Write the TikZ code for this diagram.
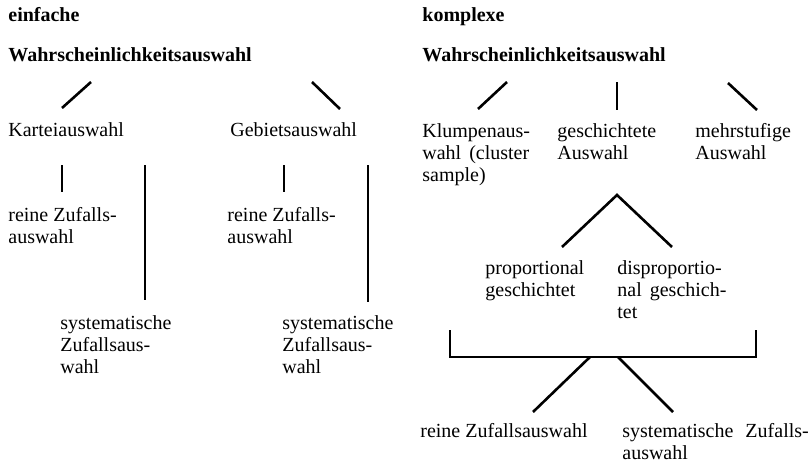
\documentclass[tikz,border=0pt]{standalone}
\usepackage{fontspec}
\setmainfont{Liberation Serif}
\begin{document}
\begin{tikzpicture}[x=0.5pt,y=-0.5pt,
    txt/.style={anchor=north west, inner sep=0pt, align=left, font=\fontsize{10}{11}\selectfont},
    head/.style={txt, font=\fontsize{10}{11}\selectfont\bfseries},
    branch/.style={line width=1.3pt}]

        \useasboundingbox (0,0) rectangle (811,466);

        %Simple probability sampling
        \node [head] (einfach) at (8,7)  {einfache};
        \node [head] (wahrL)   at (8,47) {Wahrscheinlichkeitsauswahl};
        \node [txt]  (kartei)  at (8,122)   {Karteiauswahl};
        \node [txt]  (gebiet)  at (230,122) {Gebietsauswahl};
        \node [txt]  (reineK)  at (8,207)   {reine Zufalls-\\auswahl};
        \node [txt]  (reineG)  at (227,207) {reine Zufalls-\\auswahl};
        \node [txt]  (systK)   at (60,315)  {systematische\\Zufallsaus-\\wahl};
        \node [txt]  (systG)   at (282,315) {systematische\\Zufallsaus-\\wahl};

        \coordinate (kA) at (91,82);   \coordinate (kB) at (62,108);
        \coordinate (gA) at (312,82);  \coordinate (gB) at (340,109);
        \coordinate (rkA) at (62,165);  \coordinate (rkB) at (62,192);
        \coordinate (skA) at (145,165); \coordinate (skB) at (145,300);
        \coordinate (rgA) at (284,165); \coordinate (rgB) at (284,192);
        \coordinate (sgA) at (368,165); \coordinate (sgB) at (368,302);
        \draw [branch] (kA) -- (kB);
        \draw [branch] (gA) -- (gB);
        \draw [branch] (rkA) -- (rkB);
        \draw [branch] (skA) -- (skB);
        \draw [branch] (rgA) -- (rgB);
        \draw [branch] (sgA) -- (sgB);

        %Complex probability sampling
        \node [head] (komplex) at (422,7)  {komplexe};
        \node [head] (wahrR)   at (422,47) {Wahrscheinlichkeitsauswahl};
        \node [txt]  (klumpen) at (422,123) {Klumpenaus-\\wahl\hspace{4pt}(cluster\\sample)};
        \node [txt]  (geschi)  at (557,123) {geschichtete\\Auswahl};
        \node [txt]  (mehrst)  at (695,123) {mehrstufige\\Auswahl};
        \node [txt]  (prop)    at (485,260) {proportional\\geschichtet};
        \node [txt]  (disprop) at (617,260) {disproportio-\\nal\hspace{4pt}geschich-\\tet};
        \node [txt]  (reineZ)  at (420,423) {reine Zufallsauswahl};
        \node [txt]  (systZ)   at (622,423) {systematische\hspace{6pt}Zufalls-\\auswahl};

        \coordinate (cA) at (507,82);  \coordinate (cB) at (478,109);
        \coordinate (sA) at (617,82);  \coordinate (sB) at (617,110);
        \coordinate (mA) at (728,83);  \coordinate (mB) at (757,110);
        \draw [branch] (cA) -- (cB);
        \draw [branch] (sA) -- (sB);
        \draw [branch] (mA) -- (mB);

        %Strata
        \coordinate (apex) at (617,195);
        \coordinate (pL) at (562,247);  \coordinate (pR) at (672,247);
        \draw [branch] (pL) -- (apex) -- (pR);

        %Bracket and selection
        \coordinate (bL) at (450,330);  \coordinate (bR) at (756,330);
        \coordinate (bLd) at (450,357); \coordinate (bRd) at (756,357);
        \draw [branch] (bL) -- (bLd) -- (bRd) -- (bR);
        \coordinate (zA) at (590,357);  \coordinate (zB) at (533,412);
        \coordinate (yA) at (618,357);  \coordinate (yB) at (673,412);
        \draw [branch] (zA) -- (zB);
        \draw [branch] (yA) -- (yB);

\end{tikzpicture}
\end{document}
